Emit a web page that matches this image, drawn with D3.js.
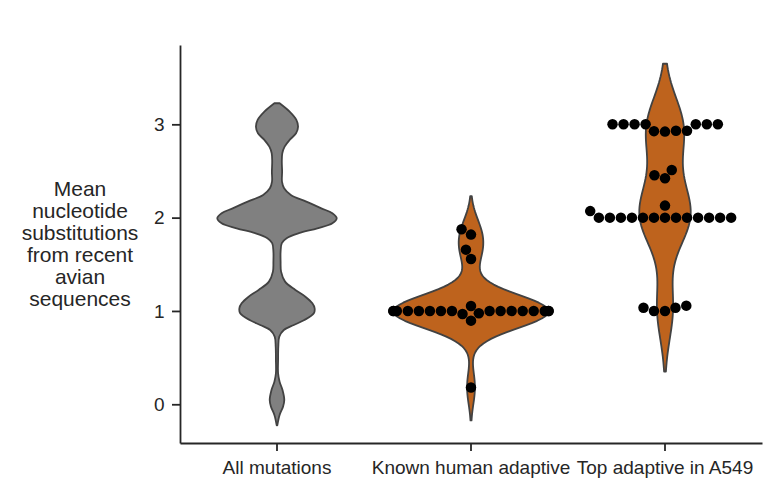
<!DOCTYPE html>
<html>
<head>
<meta charset="utf-8">
<script src="https://cdn.jsdelivr.net/npm/d3@7"></script>
<style>
  body { margin: 0; background: #fff; }
  svg { display: block; font-family: 'Liberation Sans', Arial, sans-serif; }
</style>
</head>
<body>
<div id="chart"></div>
<script>
const categories = ['All mutations', 'Known human adaptive', 'Top adaptive in A549'];
const yTicks = [0, 1, 2, 3];
const yLabelLines = ['Mean', 'nucleotide', 'substitutions', 'from recent', 'avian', 'sequences'];

const grayLevels = [3.226, 3.136, 3.047, 2.975, 2.904, 2.833, 2.761, 2.69, 2.6, 2.493, 2.386, 2.315,
  2.243, 2.172, 2.1, 2.047, 1.994, 1.94, 1.886, 1.833, 1.779, 1.726, 1.636, 1.528, 1.421, 1.314,
  1.225, 1.153, 1.082, 1.029, 0.975, 0.9, 0.85, 0.796, 0.725, 0.617, 0.475, 0.332, 0.242, 0.153,
  0.046, -0.026, -0.115, -0.226];
const grayDensity = [0.06, 0.291, 0.446, 0.485, 0.439, 0.291, 0.176, 0.122, 0.111, 0.118, 0.115, 0.164,
  0.319, 0.676, 1.022, 1.276, 1.376, 1.276, 0.93, 0.503, 0.221, 0.111, 0.083, 0.083, 0.094, 0.186,
  0.423, 0.654, 0.815, 0.867, 0.849, 0.619, 0.388, 0.157, 0.053, 0.03, 0.025, 0.025, 0.06, 0.127,
  0.168, 0.139, 0.06, 0.007];

// individual mutations (swarm points)
const knownValues = [0.18, 0.896, 0.968, 0.975, 1, 1, 1, 1, 1, 1, 1, 1, 1, 1, 1, 1, 1, 1, 1, 1,
  1.054, 1.557, 1.657, 1.818, 1.876];
const topValues = [1, 1, 1.035, 1.035, 1.057, 2, 2, 2, 2, 2, 2, 2, 2, 2, 2, 2, 2, 2,
  2.07, 2.129, 2.422, 2.454, 2.511, 2.922, 2.927, 2.932, 2.932, 3, 3, 3, 3, 3, 3, 3];

const width = 770, height = 490;
const marginTop = 45, marginRight = 8, marginBottom = 47, marginLeft = 180;
const ink = '#262626';
const r = 5.25; // dot radius, px

const x = d3.scaleBand(categories, [marginLeft, width - marginRight]);
const y = d3.scaleLinear([-0.415, 3.85], [height - marginBottom, marginTop]);

// gaussian kde, scott bandwidth, cut = 2 (as seaborn does it)
const kde = values => {
  const n = values.length;
  const bw = d3.deviation(values) * Math.pow(n, -1 / 5);
  const lo = d3.min(values) - 2 * bw, hi = d3.max(values) + 2 * bw;
  return d3.range(100).map(i => {
    const g = lo + (hi - lo) * i / 99;
    const d = d3.sum(values, v => Math.exp(-0.5 * ((g - v) / bw) ** 2)) / (n * bw * Math.sqrt(2 * Math.PI));
    return [g, d];
  });
};

const violins = [
  {cat: categories[0], fill: '#808080', profile: d3.zip(grayLevels, grayDensity), curve: d3.curveCatmullRom},
  {cat: categories[1], fill: '#be631d', profile: kde(knownValues), curve: d3.curveLinear},
  {cat: categories[2], fill: '#be631d', profile: kde(topValues), curve: d3.curveLinear}
];
const maxDensity = d3.max(violins, v => d3.max(v.profile, d => d[1]));
const w = d3.scaleLinear([0, maxDensity], [0, x.bandwidth() * 0.4]);

// seaborn-like beeswarm, in pixels
const swarm = (values, center) => {
  const half = x.bandwidth() * 0.4;
  const pts = values.map(v => ({v, y: y(v)})).sort((a, b) => a.v - b.v);
  const placed = [];
  for (const p of pts) {
    const nb = [];
    for (let j = placed.length - 1; j >= 0; j--) {
      if (Math.abs(p.y - placed[j].y) < 2 * r) nb.unshift(placed[j]);
      else break;
    }
    const cand = [center];
    let leftFirst = true;
    for (const q of nb) {
      const dx = Math.sqrt(Math.max(4 * r * r - (p.y - q.y) ** 2, 0)) * 1.05;
      if (leftFirst) cand.push(q.x - dx, q.x + dx);
      else cand.push(q.x + dx, q.x - dx);
      leftFirst = !leftFirst;
    }
    const order = cand.map((c, i) => [Math.abs(c - center), i, c])
      .sort((a, b) => a[0] - b[0] || a[1] - b[1]);
    let px = center;
    for (const [, , c] of order) {
      if (nb.every(q => (q.x - c) ** 2 + (q.y - p.y) ** 2 >= 4 * r * r - 1e-9)) { px = c; break; }
    }
    placed.push({v: p.v, y: p.y, x: px});
  }
  placed.forEach(p => p.x = Math.max(center - half, Math.min(center + half, p.x)));
  return placed;
};

const svg = d3.select('#chart').append('svg')
  .attr('width', width)
  .attr('height', height)
  .attr('viewBox', [0, 0, width, height]);

svg.append('rect').attr('width', width).attr('height', height).attr('fill', '#fff');

// violins
for (const v of violins) {
  const cx = x(v.cat) + x.bandwidth() / 2;
  const area = d3.area()
    .curve(v.curve)
    .y(d => y(d[0]))
    .x0(d => cx - w(d[1]))
    .x1(d => cx + w(d[1]));
  svg.append('path')
    .attr('d', area(v.profile))
    .attr('fill', v.fill)
    .attr('stroke', '#424242')
    .attr('stroke-width', 1.8)
    .attr('stroke-linejoin', 'round');
}

// swarms
const dots = [
  ...swarm(knownValues, x(categories[1]) + x.bandwidth() / 2),
  ...swarm(topValues, x(categories[2]) + x.bandwidth() / 2)
];
svg.append('g')
  .attr('fill', '#000')
  .selectAll('circle')
  .data(dots)
  .join('circle')
  .attr('cx', d => d.x)
  .attr('cy', d => d.y)
  .attr('r', r);

// axes
svg.append('g')
  .attr('transform', `translate(${marginLeft},0)`)
  .call(d3.axisLeft(y).tickValues(yTicks).tickFormat(d3.format('d')).tickSize(8).tickSizeOuter(0).tickPadding(7.5))
  .call(g => g.selectAll('path, line').attr('stroke', ink).attr('stroke-width', 1.8))
  .call(g => g.selectAll('text').attr('fill', ink).attr('font-size', 19).attr('font-family', null));

svg.append('g')
  .attr('transform', `translate(0,${height - marginBottom})`)
  .call(d3.axisBottom(x).tickSize(8).tickSizeOuter(0).tickPadding(9.5))
  .call(g => g.selectAll('path, line').attr('stroke', ink).attr('stroke-width', 1.8))
  .call(g => g.selectAll('text').attr('fill', ink).attr('font-size', 19).attr('font-family', null));

svg.append('text')
  .attr('fill', ink)
  .attr('font-size', 21)
  .attr('text-anchor', 'middle')
  .selectAll('tspan')
  .data(yLabelLines)
  .join('tspan')
  .attr('x', 80)
  .attr('y', (d, i) => 196 + i * 22)
  .text(d => d);
</script>
</body>
</html>
